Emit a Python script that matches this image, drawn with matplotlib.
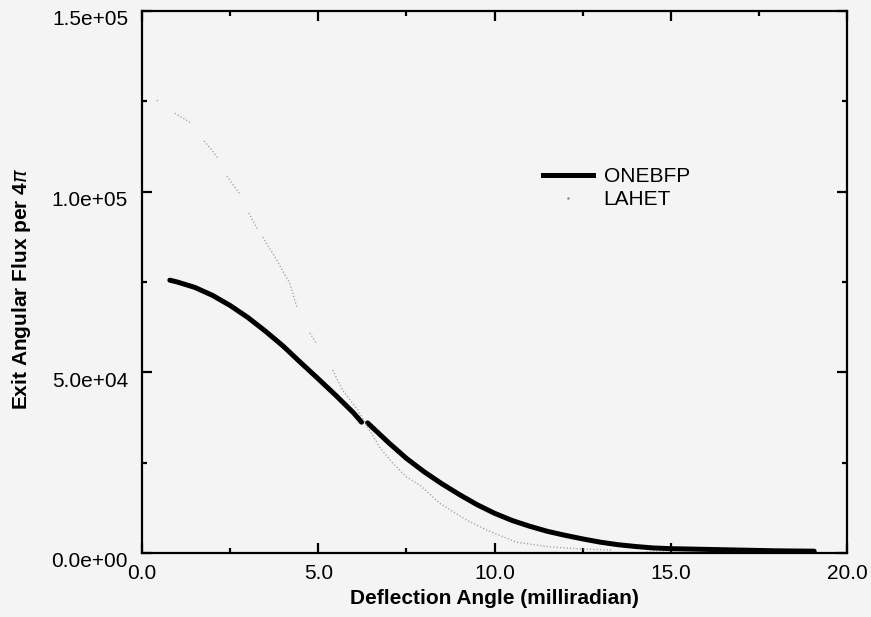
import numpy as np
import matplotlib.pyplot as plt
import matplotlib.transforms as mtransforms
from matplotlib.lines import Line2D
from matplotlib.ticker import MultipleLocator, FormatStrFormatter

plt.rcParams['font.family'] = ['Liberation Sans', 'DejaVu Sans']
BG = '#f4f4f4'

# ONEBFP (solid, thick) - nan marks the small break in the curve
onebfp_x = [0.79, 1.0, 1.5, 2.0, 2.5, 3.0, 3.5, 4.0, 4.5, 5.0, 5.5, 6.0, 6.23, np.nan,
            6.40, 7.0, 7.5, 8.0, 8.5, 9.0, 9.5, 10.0, 10.5, 11.0, 11.5, 12.0, 12.5,
            13.0, 13.5, 14.0, 14.5, 15.0, 16.0, 17.0, 18.0, 19.07]
onebfp_y = [75.5e3, 75.0e3, 73.5e3, 71.3e3, 68.5e3, 65.2e3, 61.4e3, 57.3e3, 52.7e3,
            48.2e3, 43.6e3, 38.8e3, 36.2e3, np.nan, 36.0e3, 30.5e3, 26.2e3, 22.5e3,
            19.2e3, 16.2e3, 13.4e3, 11.0e3, 9.0e3, 7.4e3, 6.0e3, 4.9e3, 3.9e3, 3.0e3,
            2.3e3, 1.8e3, 1.4e3, 1.2e3, 1.0e3, 0.8e3, 0.6e3, 0.5e3]

# LAHET (scattered grey dots) - nan marks gaps between clusters
lahet_x = [0.42, 0.48, np.nan, 0.93, 1.16, 1.39, np.nan, 1.76, 1.98, 2.15, np.nan,
           2.41, 2.78, np.nan, 3.03, 3.29, np.nan, 3.43, 3.82, 4.19, 4.39, np.nan,
           4.76, 4.95, np.nan, 5.41, 5.69, 6.12, 6.40, 6.74, 7.11, 7.51, 7.88,
           8.44, 9.21, 9.77, 10.62, 11.56, 12.49, 13.34, np.nan, 14.3, 16.1]
lahet_y = [125.3e3, 125.0e3, np.nan, 121.7e3, 120.4e3, 119.0e3, np.nan, 114.0e3, 111.5e3,
           109.3e3, np.nan, 104.3e3, 99.3e3, np.nan, 94.1e3, 89.4e3, np.nan, 87.4e3,
           81.1e3, 74.7e3, 68.1e3, np.nan, 60.9e3, 58.0e3, np.nan, 50.6e3, 45.1e3,
           39.6e3, 34.9e3, 29.3e3, 24.9e3, 21.0e3, 18.8e3, 13.8e3, 9.1e3, 6.4e3,
           3.0e3, 1.7e3, 1.1e3, 0.8e3, np.nan, 0.3e3, 0.0]

x_ticks = [0, 5, 10, 15, 20]
y_ticks = [0, 5e4, 1e5, 1.5e5]

fig = plt.figure(figsize=(8.71, 6.17), dpi=100, facecolor=BG)
ax = fig.add_axes([142 / 871, 1 - 553 / 617, 705 / 871, 542 / 617], facecolor=BG)

ax.plot(onebfp_x, onebfp_y, color='black', lw=3.6, solid_capstyle='round',
        solid_joinstyle='round', label='ONEBFP')
ax.plot(lahet_x, lahet_y, color='#9a9a9a', lw=1.0, ls=(0, (0.8, 1.6)), label='LAHET')

ax.set_xlim(0, 20)
ax.set_ylim(0, 1.5e5)
ax.set_xticks(x_ticks)
ax.set_yticks(y_ticks)
ax.xaxis.set_minor_locator(MultipleLocator(2.5))
ax.yaxis.set_minor_locator(MultipleLocator(2.5e4))
ax.xaxis.set_major_formatter(FormatStrFormatter('%.1f'))
ax.yaxis.set_major_formatter(lambda v, p: '%.1e' % v)

ax.tick_params(which='both', direction='in', top=True, right=True, width=1.6,
               labelsize=15, colors='black')
ax.tick_params(which='major', length=7)
ax.tick_params(which='minor', length=3.5)
ax.tick_params(axis='x', pad=8)
ax.tick_params(axis='y', pad=10)
for s in ax.spines.values():
    s.set_linewidth(1.6)

# y tick labels sit a little below their ticks in the original
off = mtransforms.ScaledTranslation(0, -5 / 72, fig.dpi_scale_trans)
for lab in ax.get_yticklabels():
    lab.set_transform(lab.get_transform() + off)

ax.set_xlabel('Deflection Angle (milliradian)', fontsize=15, fontweight='bold')
ax.set_ylabel(r'Exit Angular Flux per 4$\pi$', fontsize=15, fontweight='bold')
ax.xaxis.set_label_coords(0.5, -0.066)
ax.yaxis.set_label_coords(-0.155, 0.487)

handles = [Line2D([], [], color='black', lw=3.6),
           Line2D([], [], ls='none', marker='.', ms=2, color='#9a9a9a')]
ax.legend(handles, ['ONEBFP', 'LAHET'], loc='upper left', bbox_to_anchor=(0.569, 0.712),
          frameon=False, fontsize=15, handlelength=2.4, handletextpad=0.5,
          borderpad=0, borderaxespad=0, labelspacing=0.2, numpoints=1)

fig.savefig('out.png', dpi=100, facecolor=BG)
